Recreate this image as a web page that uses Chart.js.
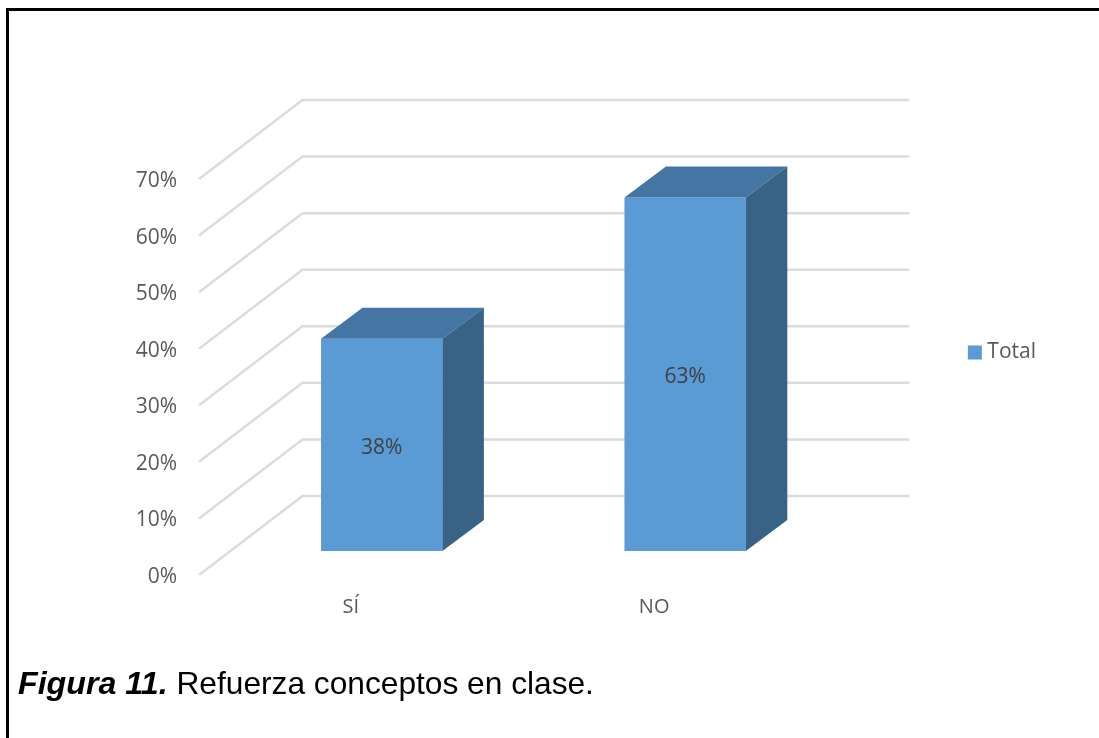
<!DOCTYPE html>
<html>
<head>
<meta charset="utf-8">
<title>Figura 11</title>
<script src="https://cdn.jsdelivr.net/npm/chart.js@4"></script>
<style>
  html, body { margin: 0; padding: 0; background: #fff; overflow: hidden; }
  #box { position: absolute; left: 6px; top: 8px; width: 1093px; height: 730px; border-left: 3px solid #000; border-top: 3px solid #000; box-sizing: border-box; }
  #wrap { position: absolute; left: 0; top: 0; width: 1099px; height: 738px; }
  #caption { position: absolute; left: 18px; top: 665px; font: 31.7px "Liberation Sans", Arial, sans-serif; color: #000; white-space: nowrap; }
  #caption b { font-style: italic; font-size: 32.2px; }
</style>
</head>
<body>
<div id="box"></div>
<div id="wrap"><canvas id="myChart"></canvas></div>
<div id="caption"><b>Figura 11.</b> Refuerza conceptos en clase.</div>
<script>
var categories = ['SÍ', 'NO'];
var seriesName = 'Total';
var values = [37.5, 62.5];
var yMax = 70;
var yStep = 10;

var fontName = '"Open Sans", sans-serif';
var frontColor = '#5b9bd5';
var topColor = '#4575a3';
var sideColor = '#386387';
var gridColor = '#dcdcdc';

// profundidad de la "caja" 3D, el eje es el plano frontal
var boxDepthX = 103.5, boxDepthY = -79;
// las barras empiezan al 30% de la caja y ocupan el 40%
var barShiftX = 31, barShiftY = -24;
var barDepthX = 41.5, barDepthY = -31;

var fake3d = {
  id: 'fake3d',
  afterLayout: function (chart) {
    // la leyenda va un poco separada del hueco que le da el layout
    chart.legend.left += 5;
    chart.legend.top += 1;
  },
  beforeDatasetsDraw: function (chart) {
    var c = chart.ctx, a = chart.chartArea, y = chart.scales.y;
    c.save();
    c.strokeStyle = gridColor;
    c.lineWidth = 2.5;
    y.ticks.forEach(function (t, i) {
      var py = y.getPixelForTick(i);
      c.beginPath();
      c.moveTo(a.left, py);
      c.lineTo(a.left + boxDepthX, py + boxDepthY);
      c.lineTo(a.right + boxDepthX, py + boxDepthY);
      c.stroke();
    });
    c.restore();
  },
  beforeDatasetDraw: function (chart) {
    chart.ctx.save();
    chart.ctx.translate(barShiftX, barShiftY);
  },
  afterDatasetDraw: function (chart, args) {
    var c = chart.ctx;
    args.meta.data.forEach(function (bar, i) {
      var l = bar.x - bar.width / 2, r = bar.x + bar.width / 2;
      // cara superior
      c.fillStyle = topColor;
      c.beginPath();
      c.moveTo(l, bar.y);
      c.lineTo(l + barDepthX, bar.y + barDepthY);
      c.lineTo(r + barDepthX, bar.y + barDepthY);
      c.lineTo(r, bar.y);
      c.closePath();
      c.fill();
      // cara lateral
      c.fillStyle = sideColor;
      c.beginPath();
      c.moveTo(r, bar.y);
      c.lineTo(r + barDepthX, bar.y + barDepthY);
      c.lineTo(r + barDepthX, bar.base + barDepthY);
      c.lineTo(r, bar.base);
      c.closePath();
      c.fill();
      // etiqueta
      c.fillStyle = '#404040';
      c.font = '21px ' + fontName;
      c.textAlign = 'center';
      c.textBaseline = 'middle';
      c.fillText(values[i].toFixed(0) + '%', bar.x, (bar.y + bar.base) / 2 + 3);
    });
    c.restore();
  }
};

var ctx = document.getElementById('myChart');
var myChart = new Chart(ctx, {
  type: 'bar',
  data: {
    labels: categories,
    datasets: [{
      label: seriesName,
      data: values,
      backgroundColor: frontColor,
      borderWidth: 0,
      barPercentage: 1,
      categoryPercentage: 0.4
    }]
  },
  options: {
    responsive: true,
    maintainAspectRatio: false,
    animation: false,
    layout: {
      autoPadding: false,
      padding: { left: 0, right: 58, top: 179, bottom: 0 }
    },
    scales: {
      x: {
        grid: { display: false, drawTicks: false },
        border: { display: false },
        ticks: { color: '#595959', font: { family: fontName, size: 20 }, padding: 20 },
        afterFit: function (s) { s.height = 163; }
      },
      y: {
        min: 0,
        max: yMax,
        grid: { display: false, drawTicks: false },
        border: { display: false },
        ticks: {
          stepSize: yStep,
          color: '#595959',
          font: { family: fontName, size: 21 },
          padding: 22,
          labelOffset: 2,
          callback: function (v) { return v + '%'; }
        },
        afterFit: function (s) { s.width = 199; }
      }
    },
    plugins: {
      tooltip: { enabled: false },
      legend: {
        position: 'right',
        align: 'start',
        labels: {
          padding: 162,
          color: '#595959',
          font: { family: fontName, size: 21 },
          boxWidth: 4,
          boxHeight: 4,
          // trazo grueso para que el cuadro quede pegado al texto
          generateLabels: function () {
            return [{ text: seriesName, fillStyle: frontColor, strokeStyle: frontColor, lineWidth: 10, fontColor: '#595959' }];
          }
        }
      }
    }
  },
  plugins: [fake3d]
});
</script>
</body>
</html>
